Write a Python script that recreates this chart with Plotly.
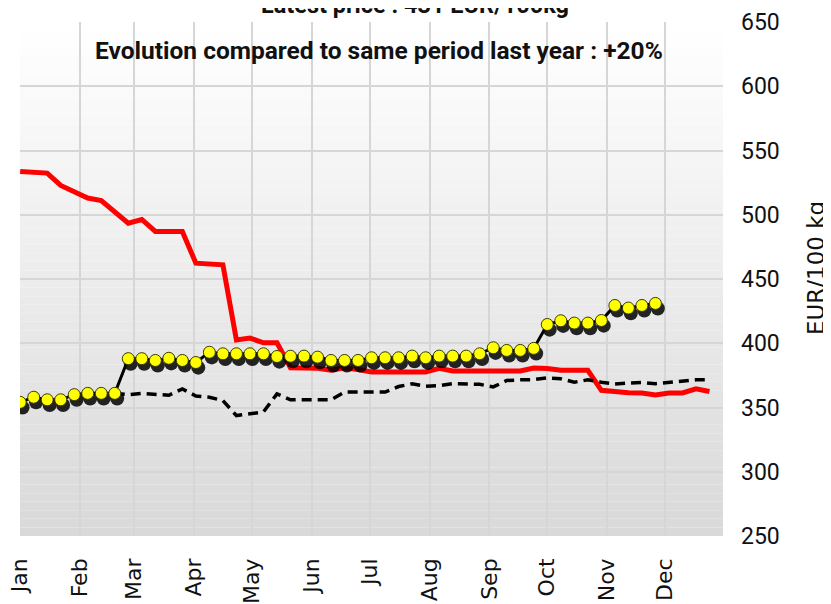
import plotly.graph_objects as go
import pandas as pd

# ===== DATA =====
# weekly quotations, EUR/100 kg
current_year = [354, 358, 356, 356, 360, 361, 361, 361, 388, 388,
                386.6, 388.3, 386.6, 385, 393, 391.8, 391.8, 391.8, 391.8, 389.7,
                389.9, 390, 389.2, 386.6, 386.6, 386.6, 388.7, 388.7, 388.7, 390,
                388.7, 390, 390, 390, 391.8, 396.5, 394.4, 394.4, 396, 414.6,
                417.5, 415.7, 415.7, 417.7, 429.4, 427.4, 429.4, 431]

last_year = [533.7, 532.6, 532.4, 522.8, 518.3, 513, 511, 502.5, 493.4, 496.3,
             487, 487, 487, 462.3, 461.5, 461, 402.6, 404, 400.4, 400.4,
             381, 381, 380.5, 379, 381, 379.6, 377.7, 377.7, 377.7, 377.7,
             377.7, 380.5, 378.5, 378.5, 378.5, 378.5, 378.5, 378.5, 380.7, 380.4,
             379, 379, 379, 363.4, 362, 361.5, 361.3, 359.8, 361.3, 361.3,
             364.6, 362.4]

# average line, not visible before early March (hidden behind markers)
average = [None, None, None, None, None, None, None, 361, 360, 361,
           360, 359.5, 364.5, 359, 358, 355.4, 343.7, 345, 346.5, 360.6,
           356, 356, 356, 356, 362, 362, 362, 362, 366.3, 368.5,
           366.5, 367, 368.5, 368, 368, 366, 371, 371.5, 371.7, 373,
           372.3, 369.7, 371.5, 369.7, 368.3, 369, 369.5, 368.5, 369.5, 370,
           371.5, 371.5]

weeks = pd.date_range("2023-01-01", periods=52, freq="7D")
weeks_cur = weeks[:len(current_year)]

title_text = "Latest price : 431 EUR/100kg"
subtitle_text = "Evolution compared to same period last year : +20%"
y_title = "EUR/100 kg"

# ===== STYLE =====
BOLD_FONT = "Roboto, Liberation Sans, sans-serif"
TICK_FONT = "Roboto, Liberation Sans, sans-serif"
WIDE_FONT = "DejaVu Sans, Verdana, sans-serif"
SHADOW_DY = 4
SHADOW_DX = pd.Timedelta(hours=30)

fig = go.Figure()

fig.add_trace(go.Scatter(
    x=weeks, y=last_year, mode="lines",
    line=dict(color="#ff0000", width=5),
    showlegend=False, hoverinfo="skip"))

fig.add_trace(go.Scatter(
    x=weeks, y=average, mode="lines",
    line=dict(color="#000000", width=3.5, dash="10px,6px"),
    showlegend=False, hoverinfo="skip", connectgaps=False))

fig.add_trace(go.Scatter(
    x=weeks_cur, y=current_year, mode="lines",
    line=dict(color="#000000", width=3),
    showlegend=False, hoverinfo="skip"))

# blurred shadow below the markers
fig.add_trace(go.Scatter(
    x=weeks_cur + SHADOW_DX, y=[v - SHADOW_DY for v in current_year], mode="markers",
    marker=dict(color="rgba(0,0,0,0.85)", size=14, line=dict(width=0)),
    showlegend=False, hoverinfo="skip"))

fig.add_trace(go.Scatter(
    x=weeks_cur, y=current_year, mode="markers",
    marker=dict(color="#ffff00", size=12, line=dict(color="#3a3a00", width=1)),
    showlegend=False,
    hovertemplate="%{x|%d %b}: %{y} EUR/100 kg<extra></extra>"))

# ===== BACKGROUND GRADIENT =====
n_bands = 60
for i in range(n_bands):
    t = i / (n_bands - 1)
    g = round(217 + (255 - 217) * t)
    fig.add_shape(type="rect", xref="x domain", yref="y domain",
                  x0=0, x1=1, y0=i / n_bands, y1=(i + 1) / n_bands,
                  fillcolor=f"rgb({g},{g},{g})", line=dict(width=0), layer="below")

# ===== TEXT =====
# the title sits mostly above the top edge, as in the source image
fig.add_annotation(text=f"<b>{title_text}</b>", xref="paper", yref="paper",
                   x=0.562, y=1.034, xanchor="center", yanchor="middle",
                   showarrow=False, font=dict(family=BOLD_FONT, size=23.5, color="#111111"))
fig.add_annotation(text=f"<b>{subtitle_text}</b>", xref="paper", yref="paper",
                   x=0.5107, y=0.9437, xanchor="center", yanchor="middle",
                   showarrow=False, font=dict(family=BOLD_FONT, size=24.5, color="#111111"))
fig.add_annotation(text=y_title, xref="paper", yref="paper",
                   x=1.1323, y=0.5214, textangle=-90, xanchor="center", yanchor="middle",
                   showarrow=False, font=dict(family=WIDE_FONT, size=23, color="#111111"))

# ===== LAYOUT =====
fig.update_layout(
    width=823, height=596,
    margin=dict(l=12, r=108, t=13.5, b=67.5, autoexpand=False),
    plot_bgcolor="rgba(0,0,0,0)", paper_bgcolor="white",
    xaxis=dict(type="date", range=["2022-12-31 22:00", "2023-12-31"],
               dtick="M1", tick0="2023-01-01", tickformat="%b", tickangle=-90,
               showgrid=True, gridcolor="#d6d6d6", gridwidth=1.5,
               zeroline=False, showline=False, ticks="",
               tickfont=dict(family=WIDE_FONT, size=22, color="#111111"),
               ticklabelstandoff=17, ticklabeloverflow="allow", automargin=False),
    yaxis=dict(side="right", range=[250, 650], dtick=50,
               showgrid=True, gridcolor="#d6d6d6", gridwidth=1.5,
               zeroline=False, showline=False, ticks="",
               tickfont=dict(family=TICK_FONT, size=23, color="#111111"),
               ticklabelstandoff=17, automargin=False),
)

fig.write_html("out.html")
